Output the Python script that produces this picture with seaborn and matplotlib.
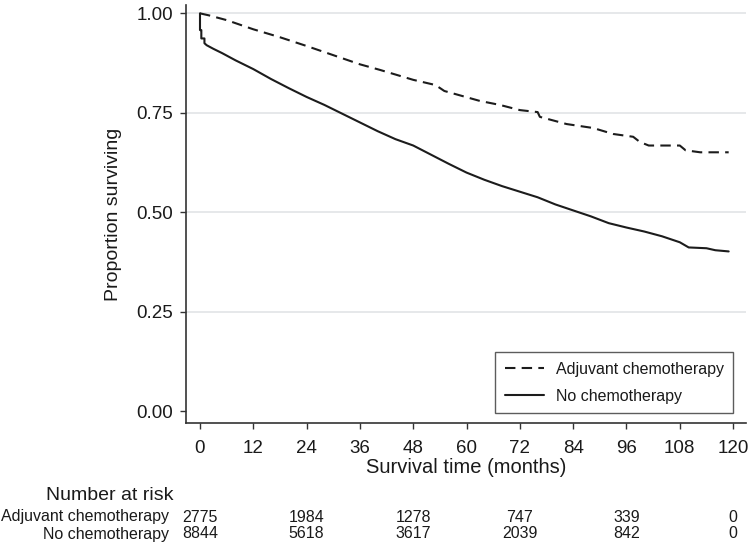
import pandas as pd
import seaborn as sns
import matplotlib.pyplot as plt
from matplotlib import transforms

# Kaplan-Meier curves (months, proportion surviving)
adj_time = [0, 2, 6, 12, 18, 24, 30, 36, 40.5, 48, 53, 55, 63, 67.5, 72, 76, 76.5,
            82.5, 88.5, 93, 97.5, 99, 101, 108, 109.3, 112.6, 119]
adj_surv = [1.0, 0.995, 0.983, 0.960, 0.940, 0.918, 0.895, 0.872, 0.858, 0.833, 0.820,
            0.805, 0.780, 0.770, 0.757, 0.752, 0.740, 0.722, 0.712, 0.697, 0.690, 0.677,
            0.668, 0.668, 0.656, 0.651, 0.651]

no_time = [0, 0, 0.3, 0.3, 1, 1, 1.5, 3, 5, 8, 12, 16, 20, 24, 28, 32, 36, 40, 44, 48,
           52, 56, 60, 64, 68, 72, 76, 80, 84, 88, 92, 96, 100, 104, 108, 110, 114, 116,
           119]
no_surv = [1.0, 0.958, 0.958, 0.937, 0.937, 0.925, 0.920, 0.911, 0.900, 0.882, 0.860,
           0.835, 0.812, 0.790, 0.770, 0.748, 0.726, 0.704, 0.684, 0.668, 0.645, 0.622,
           0.600, 0.582, 0.566, 0.552, 0.538, 0.520, 0.505, 0.490, 0.473, 0.462, 0.452,
           0.440, 0.425, 0.412, 0.410, 0.405, 0.402]

groups = ["Adjuvant chemotherapy", "No chemotherapy"]
risk_times = [0, 24, 48, 72, 96, 120]
risk_adj = [2775, 1984, 1278, 747, 339, 0]
risk_no = [8844, 5618, 3617, 2039, 842, 0]

x_ticks = list(range(0, 121, 12))
y_ticks = [0.0, 0.25, 0.5, 0.75, 1.0]


def main():
    sns.set_theme(style="white")
    plt.rcParams['font.family'] = ['Liberation Sans', 'DejaVu Sans']

    df = pd.concat([
        pd.DataFrame({'time': adj_time, 'surv': adj_surv, 'group': groups[0]}),
        pd.DataFrame({'time': no_time, 'surv': no_surv, 'group': groups[1]}),
    ])

    fig = plt.figure(figsize=(7.5, 5.43), dpi=100)
    ax = fig.add_axes([186 / 750, 120 / 543, 560 / 750, 418 / 543])

    sns.lineplot(
        data=df, x='time', y='surv', style='group', style_order=groups,
        dashes={groups[0]: (5, 3), groups[1]: ''},
        color='#1c1c1c', linewidth=1.5, estimator=None, sort=False,
        legend=False, ax=ax
    )

    ax.set_xlim(-3.15, 122.9)
    ax.set_ylim(-0.029, 1.021)
    ax.set_xticks(x_ticks)
    ax.set_yticks(y_ticks)
    ax.set_yticklabels([f"{v:.2f}" for v in y_ticks])

    ax.yaxis.grid(True, color='#e6e8ea', linewidth=1.4)
    ax.get_ygridlines()[0].set_visible(False)
    ax.set_axisbelow(True)

    for side in ['top', 'right']:
        ax.spines[side].set_visible(False)
    for side in ['left', 'bottom']:
        ax.spines[side].set_color('#333333')
        ax.spines[side].set_linewidth(1.2)

    ax.tick_params(axis='both', direction='out', length=4.5, width=1.0,
                   color='#333333', labelsize=13.5, labelcolor='#1a1a1a',
                   bottom=True, left=True)
    ax.tick_params(axis='x', pad=8)
    ax.tick_params(axis='y', pad=5)

    ax.set_xlabel("Survival time (months)", fontsize=14.5, color='#1a1a1a')
    ax.set_ylabel("Proportion surviving", fontsize=14, color='#1a1a1a')
    ax.xaxis.set_label_coords(0.5, -0.083)
    ax.yaxis.set_label_coords(-0.114, 0.5)

    leg = ax.legend(handles=ax.lines[:2], labels=groups, loc='upper left',
                    bbox_to_anchor=(495 / 750, 1 - 352 / 543),
                    bbox_transform=fig.transFigure, fontsize=11.5,
                    frameon=True, fancybox=False, handlelength=2.45,
                    borderpad=0.6, labelspacing=0.75, handletextpad=0.75,
                    borderaxespad=0)
    leg.get_frame().set_edgecolor('#333333')
    leg.get_frame().set_linewidth(1.0)
    for t in leg.get_texts():
        t.set_color('#1a1a1a')

    # number at risk table
    trans = transforms.blended_transform_factory(ax.transData, fig.transFigure)
    fig.text(173 / 750, 1 - 496 / 543, "Number at risk", ha='right', va='center',
             fontsize=14, color='#1a1a1a')
    rows = [(groups[0], risk_adj, 1 - 517 / 543), (groups[1], risk_no, 1 - 534 / 543)]
    for name, counts, yy in rows:
        fig.text(169 / 750, yy, name, ha='right', va='center', fontsize=11.5,
                 color='#1a1a1a')
        for t, n in zip(risk_times, counts):
            ax.text(t, yy, str(n), transform=trans, ha='center', va='center',
                    fontsize=11.5, color='#1a1a1a', clip_on=False)

    fig.savefig("out.png", dpi=100)


if __name__ == '__main__':
    main()
